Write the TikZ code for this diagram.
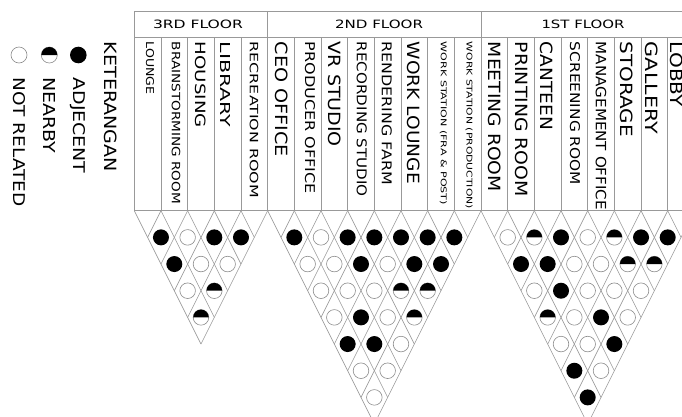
\documentclass[tikz,border=0pt]{standalone}
\usepackage{fontspec}
\setmainfont{DejaVu Sans}
\begin{document}
\begin{tikzpicture}[x=1pt,y=1pt]
\tikzset{
  gridline/.style={draw=black!40, line width=0.6pt},
  lbl/.style={rotate=-90, anchor=west, inner sep=0pt, text=black},
  hdr/.style={inner sep=0pt, text=black},
}
\useasboundingbox (0,0) rectangle (682,-416);
\clip (0,0) rectangle (682,-416);
\def\w{26.67}
\def\yb{-210.7}
% circle macro: x0, a, b, state (0 open, 1 half, 2 full)
\newcommand{\relcell}[4]{%
  \pgfmathsetmacro{\cx}{#1+(#2+#3-1)/2*\w}%
  \pgfmathsetmacro{\cy}{\yb-(#3-#2)*\w}%
  \ifcase#4\relax
    \draw[black!45, fill=white, line width=0.6pt] (\cx,\cy) circle[radius=7.8];
  \or
    \draw[black!45, fill=white, line width=0.6pt] (\cx,\cy) circle[radius=7.8];
    \fill[black] (\cx+7.8,\cy) arc[start angle=0, end angle=180, radius=7.8] -- cycle;
  \or
    \fill[black] (\cx,\cy) circle[radius=8];
  \fi}
% triangle grid macro: x0, n
\newcommand{\trigrid}[2]{%
  \pgfmathsetmacro{\bn}{#1+#2*\w}%
  \foreach \i in {0,...,#2}{%
    \pgfmathsetmacro{\bi}{#1+\i*\w}%
    \ifnum\i<#2\relax
      \draw[gridline] (\bi,\yb) -- ({(\bi+\bn)/2},{\yb-(\bn-\bi)});
    \fi
    \ifnum\i>0\relax
      \draw[gridline] (\bi,\yb) -- ({(#1+\bi)/2},{\yb-(\bi-#1)});
    \fi
  }}
% table
\draw[gridline] (134.3,-11) -- (700,-11);
\draw[gridline] (134.3,-37.7) -- (700,-37.7);
\draw[gridline] (134.3,\yb) -- (700,\yb);
\foreach \i in {0,...,21}{
  \pgfmathsetmacro{\xx}{134.3+\i*\w}
  \draw[gridline] (\xx,-37.7) -- (\xx,\yb);
}
\foreach \i in {0,5,13,21}{
  \pgfmathsetmacro{\xx}{134.3+\i*\w}
  \draw[gridline] (\xx,-11) -- (\xx,-37.7);
}
\trigrid{134.3}{5}
\trigrid{267.65}{8}
\trigrid{481}{8}
% headers
\node[hdr] (h3) at (198,-24) {\resizebox{90pt}{8.5pt}{3RD FLOOR}};
\node[hdr] (h2) at (379,-24) {\resizebox{88pt}{8.5pt}{2ND FLOOR}};
\node[hdr] (h1) at (583,-24) {\resizebox{83pt}{8.5pt}{1ST FLOOR}};
% column labels
\node[lbl] (c1) at (150,-41.7) {\resizebox{52.7pt}{8pt}{LOUNGE}};
\node[lbl] (c2) at (176,-41.7) {\resizebox{162pt}{8.5pt}{BRAINSTORMING ROOM}};
\node[lbl] (c3) at (200.5,-41.7) {\resizebox{86pt}{10.5pt}{HOUSING}};
\node[lbl] (c4) at (225,-41.7) {\resizebox{85pt}{10pt}{LIBRARY}};
\node[lbl] (c5) at (254,-41.7) {\resizebox{156pt}{8.5pt}{RECREATION ROOM}};
\node[lbl] (c6) at (281.7,-41.7) {\resizebox{115pt}{12.5pt}{CEO OFFICE}};
\node[lbl] (c7) at (310,-41.7) {\resizebox{152pt}{10pt}{PRODUCER OFFICE}};
\node[lbl] (c8) at (335,-41.7) {\resizebox{105pt}{12.5pt}{VR STUDIO}};
\node[lbl] (c9) at (361.7,-41.7) {\resizebox{155pt}{10pt}{RECORDING STUDIO}};
\node[lbl] (c10) at (386.7,-41.7) {\resizebox{143pt}{10pt}{RENDERING FARM}};
\node[lbl] (c11) at (413.3,-41.7) {\resizebox{142pt}{12.5pt}{WORK LOUNGE}};
\node[lbl] (c12) at (443.3,-41.7) {\resizebox{163pt}{6pt}{WORK STATION (FRA \& POST)}};
\node[lbl] (c13) at (469,-41.7) {\resizebox{167pt}{6pt}{WORK STATION (PRODUCTION)}};
\node[lbl] (c14) at (495,-41.7) {\resizebox{150pt}{12.5pt}{MEETING ROOM}};
\node[lbl] (c15) at (521.5,-41.7) {\resizebox{155pt}{12.5pt}{PRINTING ROOM}};
\node[lbl] (c16) at (546.5,-41.7) {\resizebox{88pt}{12.5pt}{CANTEEN}};
\node[lbl] (c17) at (575,-41.7) {\resizebox{143pt}{10pt}{SCREENING ROOM}};
\node[lbl] (c18) at (601,-41.7) {\resizebox{168pt}{10.5pt}{MANAGEMENT OFFICE}};
\node[lbl] (c19) at (626.5,-41.7) {\resizebox{95pt}{12.5pt}{STORAGE}};
\node[lbl] (c20) at (651.5,-41.7) {\resizebox{92pt}{12.5pt}{GALLERY}};
\node[lbl] (c21) at (677,-41.7) {\resizebox{65pt}{12.5pt}{LOBBY}};
% legend
\node[lbl] (k) at (110.7,-41.7) {\resizebox{130pt}{12.5pt}{KETERANGAN}};
\node[lbl] (ladj) at (78.3,-77.3) {\resizebox{96pt}{12pt}{ADJECENT}};
\node[lbl] (lnear) at (49,-77.3) {\resizebox{76pt}{12pt}{NEARBY}};
\node[lbl] (lnot) at (19.5,-77.3) {\resizebox{129pt}{12pt}{NOT RELATED}};
\fill[black] (78.3,-55) circle[radius=8.3];
\draw[black!45, fill=white, line width=0.6pt] (49.3,-55) circle[radius=8];
\fill[black] (57.3,-55) arc[start angle=0, end angle=180, radius=8] -- cycle;
\draw[black!45, fill=white, line width=0.6pt] (19,-55) circle[radius=8];
% 3rd floor relations
\foreach \a/\b/\s in {1/2/2,2/3/0,3/4/2,4/5/2,1/3/2,2/4/0,3/5/0,1/4/0,2/5/1,1/5/1}
  {\relcell{134.3}{\a}{\b}{\s}}
% 2nd floor relations
\foreach \a/\b/\s in {1/2/2,2/3/0,3/4/2,4/5/2,5/6/2,6/7/2,7/8/2,
  1/3/0,2/4/0,3/5/2,4/6/0,5/7/2,6/8/2,
  1/4/0,2/5/0,3/6/0,4/7/1,5/8/1,
  1/5/0,2/6/2,3/7/0,4/8/1,
  1/6/2,2/7/2,3/8/0,
  1/7/0,2/8/0,
  1/8/0}
  {\relcell{267.65}{\a}{\b}{\s}}
% 1st floor relations
\foreach \a/\b/\s in {1/2/0,2/3/1,3/4/2,4/5/0,5/6/1,6/7/2,7/8/2,
  1/3/2,2/4/2,3/5/0,4/6/0,5/7/1,6/8/1,
  1/4/0,2/5/2,3/6/0,4/7/0,5/8/0,
  1/5/1,2/6/0,3/7/2,4/8/0,
  1/6/0,2/7/0,3/8/2,
  1/7/2,2/8/0,
  1/8/2}
  {\relcell{481}{\a}{\b}{\s}}
\end{tikzpicture}
\end{document}
